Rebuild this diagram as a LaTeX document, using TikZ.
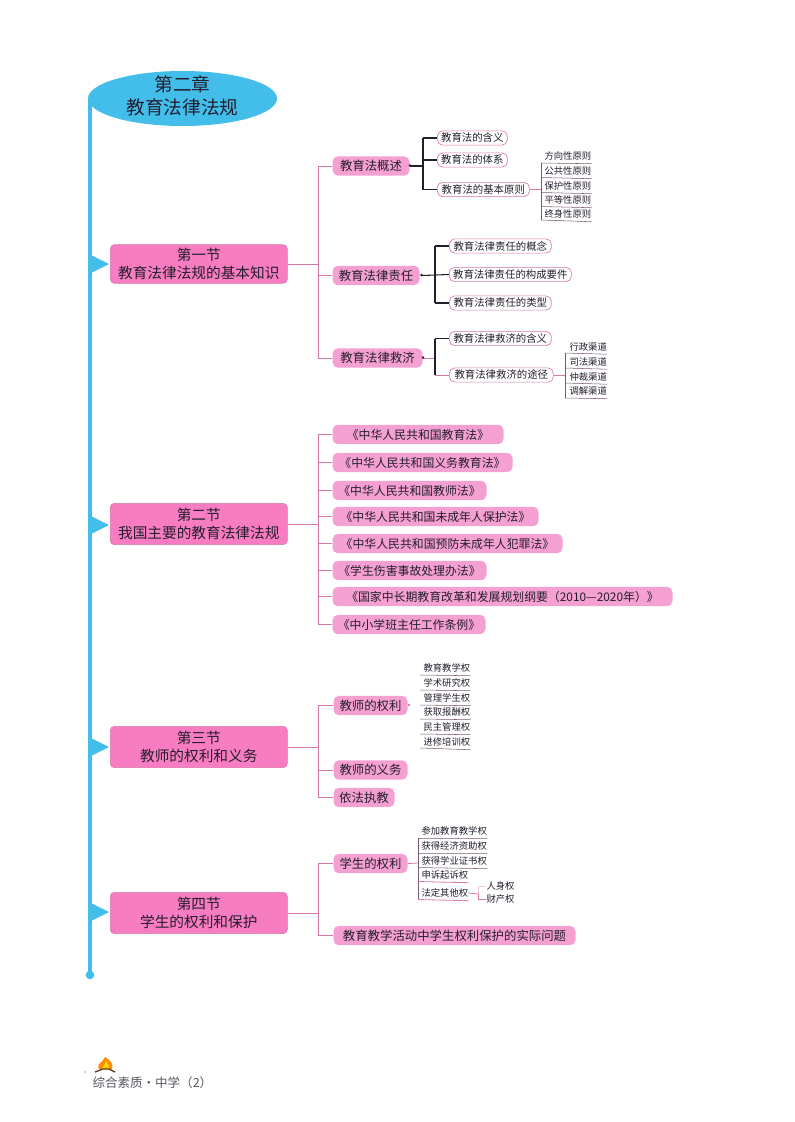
\documentclass[tikz,border=0pt]{standalone}
\usepackage{fontspec}
\setmainfont{Noto Sans CJK SC}
\usetikzlibrary{shapes.geometric}
\definecolor{spineblue}{RGB}{67,190,235}
\definecolor{sectionpink}{RGB}{248,124,194}
\definecolor{topicpink}{RGB}{245,160,210}
\definecolor{linepink}{RGB}{214,120,165}
\definecolor{leafline}{RGB}{120,90,110}
\definecolor{inkdark}{RGB}{35,30,45}

\tikzset{every picture/.style={line width=0.75pt},
  chapterbox/.style={ellipse,fill=spineblue,inner sep=-8pt,minimum width=141.75pt,minimum height=41.25pt,align=center,text=inkdark,font=\fontsize{14}{17}\selectfont},
  sectionbox/.style={anchor=west,rectangle,rounded corners=3pt,fill=sectionpink,draw=linepink,line width=0.4pt,inner sep=0pt,minimum width=132.75pt,minimum height=29pt,align=center,text=inkdark,font=\fontsize{11}{13.5}\selectfont},
  topicbox/.style={anchor=west,rectangle,rounded corners=4pt,fill=topicpink,inner sep=0pt,minimum height=14.5pt,text=inkdark,font=\fontsize{9.3}{11}\selectfont},
  lawbox/.style={topicbox,font=\fontsize{8.9}{11}\selectfont},
  outlinebox/.style={anchor=west,rectangle,rounded corners=4pt,fill=white,draw=linepink,line width=0.5pt,inner sep=0pt,minimum height=10.7pt,text=inkdark,font=\fontsize{7.8}{9}\selectfont},
  leafitem/.style={anchor=west,inner sep=0pt,minimum height=10.8pt,text=inkdark,font=\fontsize{7}{8}\selectfont},
  blackline/.style={draw=inkdark,line width=0.8pt},
  pinkline/.style={draw=linepink,line width=0.6pt},
  leafline/.style={draw=leafline,line width=0.4pt},
  joint/.style={circle,fill=#1,inner sep=0pt,minimum size=2.2pt}
}

\begin{document}
\begin{tikzpicture}[x=0.75pt,y=0.75pt,yscale=-1,xscale=1]
\useasboundingbox (0,0) rectangle (794,1122);

%Spine
\coordinate (spineend) at (90,975);
\coordinate (spinetop) at (90,100);
\draw [draw=spineblue,line width=2.4pt] (spinetop) -- (spineend);
\node [circle,fill=spineblue,inner sep=0pt,minimum size=6.5pt] at (spineend) {};
\node (chapter) [chapterbox] at (182.5,98.5) {第二章\\教育法律法规\rule[-5pt]{0pt}{0pt}};

%Section boxes
\node (secone) [sectionbox] at (110,264) {第一节\\教育法律法规的基本知识};
\node (sectwo) [sectionbox,minimum height=31pt] at (110,524) {第二节\\我国主要的教育法律法规};
\node (secthree) [sectionbox,minimum height=31pt] at (110,747) {第三节\\教师的权利和义务};
\node (secfour) [sectionbox,minimum height=31pt] at (110,913) {第四节\\学生的权利和保护};

%Triangles on the spine
\fill [spineblue] (91,255) -- (109,264) -- (91,273) -- cycle;
\fill [spineblue] (91,516) -- (109,525) -- (91,534) -- cycle;
\fill [spineblue] (91,738) -- (109,747) -- (91,756) -- cycle;
\fill [spineblue] (91,903) -- (109,912) -- (91,921) -- cycle;

% Section one
\node (overview) [topicbox,minimum width=57.75pt] at (332,166) {教育法概述};
\node (liability) [topicbox,minimum width=65.25pt] at (332,275.5) {教育法律责任};
\node (remedy) [topicbox,minimum width=67.5pt] at (332,358) {教育法律救济};
\coordinate (trunkone) at (318,264);
\draw [pinkline] (secone.east) -- (trunkone);
\draw [pinkline] (trunkone |- overview.west) -- (trunkone |- remedy.west);
\draw [pinkline] (trunkone |- overview.west) -- (overview.west);
\draw [pinkline] (trunkone |- liability.west) -- (liability.west);
\draw [pinkline] (trunkone |- remedy.west) -- (remedy.west);

\node (meaning) [outlinebox,minimum width=52.5pt] at (437,138) {教育法的含义};
\node (system) [outlinebox,minimum width=52.5pt] at (437,160) {教育法的体系};
\node (principle) [outlinebox,minimum width=69pt] at (437,189.5) {教育法的基本原则};
\coordinate (overviewjoint) at (423,166);
\draw [blackline] (overview.east) -- (overviewjoint);
\draw [blackline] (overviewjoint |- meaning.west) -- (overviewjoint |- principle.west);
\draw [blackline] (overviewjoint |- meaning.west) -- (meaning.west);
\draw [blackline] (overviewjoint |- system.west) -- (system.west);
\draw [blackline] (overviewjoint |- principle.west) -- (principle.west);
\node [joint=inkdark] at (410,165.5) {};

\node (direction) [leafitem] at (544,156) {方向性原则};
\node (public) [leafitem] at (544,171) {公共性原则};
\node (protect) [leafitem] at (544,186) {保护性原则};
\node (equal) [leafitem] at (544,200) {平等性原则};
\node (lifelong) [leafitem] at (544,214) {终身性原则};
\coordinate (principlejoint) at (541,189.5);
\draw [pinkline] (principle.east) -- (principlejoint);
\draw [leafline] (541,163) -- (541,220);
\draw [leafline] (541,163) -- (direction.south east);
\draw [leafline] (541,177.5) -- (public.south east);
\draw [leafline] (541,192.5) -- (protect.south east);
\draw [leafline] (541,206.5) -- (equal.south east);
\draw [leafline] (541,220) -- (lifelong.south east);

\node (concept) [outlinebox,minimum width=76.5pt] at (449,246) {教育法律责任的概念};
\node (element) [outlinebox,minimum width=91.5pt] at (449,274.5) {教育法律责任的构成要件};
\node (kind) [outlinebox,minimum width=76.5pt] at (449,303) {教育法律责任的类型};
\coordinate (liabilityjoint) at (435,275);
\draw [blackline] (liability.east) ++(2,0) -- (element.west);
\draw [blackline] (liabilityjoint |- concept.west) -- (liabilityjoint |- kind.west);
\draw [blackline] (liabilityjoint |- concept.west) -- (concept.west);
\draw [blackline] (liabilityjoint |- kind.west) -- (kind.west);
\node [joint=inkdark] at (421.5,275) {};

\node (remedymean) [outlinebox,minimum width=76.5pt] at (449,338.5) {教育法律救济的含义};
\node (channel) [outlinebox,minimum width=78pt] at (449,375) {教育法律救济的途径};
\coordinate (remedyjoint) at (435,358);
\draw [pinkline] (remedy.east) -- (remedyjoint);
\draw [blackline] (remedyjoint |- remedymean.west) -- (remedyjoint |- channel.west);
\draw [blackline] (remedyjoint |- remedymean.west) -- (remedymean.west);
\draw [pinkline] (remedyjoint |- channel.west) -- (channel.west);
\node [joint=inkdark] at (423,357.5) {};

\node (admin) [leafitem] at (569,346.5) {行政渠道};
\node (judicial) [leafitem] at (569,361.5) {司法渠道};
\node (arbitrate) [leafitem] at (569,376.5) {仲裁渠道};
\node (mediate) [leafitem] at (569,391) {调解渠道};
\coordinate (channeljoint) at (565,375);
\draw [pinkline] (channel.east) -- (channeljoint);
\draw [leafline] (565,353) -- (565,398);
\draw [leafline] (565,353) -- (admin.south east);
\draw [leafline] (565,368) -- (judicial.south east);
\draw [leafline] (565,383) -- (arbitrate.south east);
\draw [leafline] (565,398) -- (mediate.south east);

% Section two
\node (lawone) [lawbox,minimum width=128.25pt] at (332,434.5) {《中华人民共和国教育法》};
\node (lawtwo) [lawbox,minimum width=135pt] at (332,462.5) {《中华人民共和国义务教育法》};
\node (lawthree) [lawbox,minimum width=115.5pt] at (332,490.5) {《中华人民共和国教师法》};
\node (lawfour) [lawbox,minimum width=154.5pt] at (332,516.5) {《中华人民共和国未成年人保护法》};
\node (lawfive) [lawbox,minimum width=172.5pt] at (332,543.5) {《中华人民共和国预防未成年人犯罪法》};
\node (lawsix) [lawbox,minimum width=115.5pt] at (332,570.5) {《学生伤害事故处理办法》};
\node (lawseven) [lawbox,minimum width=255pt] at (332,596.5) {《国家中长期教育改革和发展规划纲要（2010—2020年）》};
\node (laweight) [lawbox,minimum width=114.75pt] at (332,624.5) {《中小学班主任工作条例》};
\coordinate (trunktwo) at (318,524);
\draw [pinkline] (sectwo.east) -- (trunktwo);
\draw [pinkline] (trunktwo |- lawone.west) -- (trunktwo |- laweight.west);
\draw [pinkline] (trunktwo |- lawone.west) -- (lawone.west);
\draw [pinkline] (trunktwo |- lawtwo.west) -- (lawtwo.west);
\draw [pinkline] (trunktwo |- lawthree.west) -- (lawthree.west);
\draw [pinkline] (trunktwo |- lawfour.west) -- (lawfour.west);
\draw [pinkline] (trunktwo |- lawfive.west) -- (lawfive.west);
\draw [pinkline] (trunktwo |- lawsix.west) -- (lawsix.west);
\draw [pinkline] (trunktwo |- lawseven.west) -- (lawseven.west);
\draw [pinkline] (trunktwo |- laweight.west) -- (laweight.west);

% Section three
\node (teachright) [topicbox,minimum width=55.5pt] at (333,705.5) {教师的权利};
\node (teachduty) [topicbox,minimum width=55.5pt] at (333,770) {教师的义务};
\node (lawful) [topicbox,minimum width=45.75pt] at (333,797.5) {依法执教};
\coordinate (trunkthree) at (318,747);
\draw [pinkline] (secthree.east) -- (trunkthree);
\draw [pinkline] (trunkthree |- teachright.west) -- (trunkthree |- lawful.west);
\draw [pinkline] (trunkthree |- teachright.west) -- (teachright.west);
\draw [pinkline] (trunkthree |- teachduty.west) -- (teachduty.west);
\draw [pinkline] (trunkthree |- lawful.west) -- (lawful.west);
\node [joint=linepink] at (409,705) {};

\node (rightone) [leafitem] at (423,668) {教育教学权};
\node (righttwo) [leafitem] at (423,683) {学术研究权};
\node (rightthree) [leafitem] at (423,698) {管理学生权};
\node (rightfour) [leafitem] at (423,712) {获取报酬权};
\node (rightfive) [leafitem] at (423,727) {民主管理权};
\node (rightsix) [leafitem] at (423,742) {进修培训权};
\draw [leafline] (420,675) -- (rightone.south east);
\draw [leafline] (420,690) -- (righttwo.south east);
\draw [leafline] (420,705) -- (rightthree.south east);
\draw [leafline] (420,719) -- (rightfour.south east);
\draw [leafline] (420,734) -- (rightfive.south east);
\draw [leafline] (420,748) -- (rightsix.south east);

% Section four
\node (pupilright) [topicbox,minimum width=55.5pt] at (333,863.5) {学生的权利};
\node (practice) [topicbox,minimum width=181.5pt] at (333,935.5) {教育教学活动中学生权利保护的实际问题};
\coordinate (trunkfour) at (318,913);
\draw [pinkline] (secfour.east) -- (trunkfour);
\draw [pinkline] (trunkfour |- pupilright.west) -- (trunkfour |- practice.west);
\draw [pinkline] (trunkfour |- pupilright.west) -- (pupilright.west);
\draw [pinkline] (trunkfour |- practice.west) -- (practice.west);

\node (pupilone) [leafitem] at (421,831) {参加教育教学权};
\node (pupiltwo) [leafitem] at (421,846) {获得经济资助权};
\node (pupilthree) [leafitem] at (421,861) {获得学业证书权};
\node (pupilfour) [leafitem] at (421,875) {申诉起诉权};
\node (pupilfive) [leafitem] at (421,893) {法定其他权};
\coordinate (pupiljoint) at (418,863);
\draw [pinkline] (pupilright.east) -- (pupiljoint);
\draw [leafline] (418,838.5) -- (418,899.5);
\draw [leafline] (418,838.5) -- (pupilone.south east);
\draw [leafline] (418,853.5) -- (pupiltwo.south east);
\draw [leafline] (418,867.5) -- (pupilthree.south east);
\draw [pinkline] (418,881.5) -- (pupilfour.south east);
\draw [pinkline] (418,899.5) -- (pupilfive.south east);

\node (person) [leafitem] at (486,886) {人身权};
\node (property) [leafitem] at (486,899) {财产权};
\coordinate (pupilfivejoint) at (478,894);
\draw [pinkline] (pupilfive.east) -- (pupilfivejoint);
\draw [pinkline,opacity=0.4] (pupilfivejoint) |- (person.west);
\draw [pinkline] (pupilfivejoint) |- (property.west);

% Footer
\node (footer) [anchor=west,inner sep=0pt,text=inkdark!75,font=\fontsize{9.4}{11}\selectfont] at (92,1083) {综合素质·中学（2）};
\fill [orange!90!yellow] (99,1069) .. controls (96,1063) and (103,1063) .. (105,1057) .. controls (110,1060) and (114,1064) .. (112,1069) -- cycle;
\fill [yellow!70!orange] (102,1069) .. controls (102,1066) and (105,1065) .. (106,1061) .. controls (108,1064) and (110,1066) .. (109,1069) -- cycle;
\draw [inkdark!70!orange,line width=1pt] (95,1072) -- (103,1069) -- (109,1069) -- (115,1072);
\fill [inkdark] (85,1072) circle (0.7);

\end{tikzpicture}
\end{document}
